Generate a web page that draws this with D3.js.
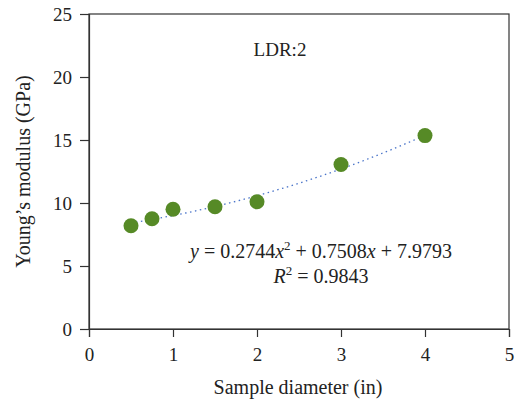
<!DOCTYPE html>
<html>
<head>
<meta charset="utf-8">
<script src="https://cdn.jsdelivr.net/npm/d3@7"></script>
<style>
  body { margin: 0; background: #fff; }
  text { font-family: "Liberation Serif", "DejaVu Serif", serif; fill: #222; }
</style>
</head>
<body>
<svg id="chart" width="518" height="404"></svg>
<script>
const diameters = [0.5, 0.75, 1, 1.5, 2, 3, 4];
const modulus = [8.2, 8.75, 9.5, 9.7, 10.1, 13.05, 15.35];
const fitCoeffs = [0.2744, 0.7508, 7.9793]; // from the trendline label
const xTicks = [0, 1, 2, 3, 4, 5];
const yTicks = [0, 5, 10, 15, 20, 25];

const margin = {top: 14, right: 9, bottom: 75, left: 89};
const width = 518 - margin.left - margin.right;
const height = 404 - margin.top - margin.bottom;

const svg = d3.select('#chart')
  .append('g')
  .attr('transform', `translate(${margin.left}, ${margin.top})`);

const x = d3.scaleLinear().domain([0, 5]).range([0, width]);
const y = d3.scaleLinear().domain([0, 25]).range([height, 0]);

// frame
svg.append('rect')
  .attr('width', width)
  .attr('height', height)
  .attr('fill', 'none')
  .attr('stroke', '#333')
  .attr('stroke-width', 1.2);

const xAxis = svg.append('g')
  .attr('transform', `translate(0, ${height})`)
  .call(d3.axisBottom(x).tickValues(xTicks).tickSize(8).tickPadding(10).tickFormat(d3.format('d')));
const yAxis = svg.append('g')
  .call(d3.axisLeft(y).tickValues(yTicks).tickSize(9).tickPadding(8).tickFormat(d3.format('d')));

[xAxis, yAxis].forEach(a => {
  a.select('.domain').attr('stroke', '#333').attr('stroke-width', 1.2);
  a.selectAll('.tick line').attr('stroke', '#333').attr('stroke-width', 1.2);
  a.selectAll('.tick text')
    .style('font-family', '"Liberation Serif", serif')
    .style('font-size', '19px')
    .attr('fill', '#222');
});
xAxis.selectAll('.tick text').attr('dy', '0.75em');

// trendline
const fitX = d3.range(diameters[0], diameters[diameters.length - 1] + 0.001, 0.05);
const fit = v => fitCoeffs[0] * v * v + fitCoeffs[1] * v + fitCoeffs[2];
svg.append('path')
  .datum(fitX)
  .attr('d', d3.line().x(d => x(d)).y(d => y(fit(d))))
  .attr('fill', 'none')
  .attr('stroke', '#4a74c9')
  .attr('stroke-width', 1.3)
  .attr('stroke-dasharray', '1.5,3.5');

svg.selectAll('circle.pt')
  .data(diameters)
  .join('circle')
  .attr('class', 'pt')
  .attr('cx', d => x(d))
  .attr('cy', (d, i) => y(modulus[i]))
  .attr('r', 7.5)
  .attr('fill', '#568a26');

// labels
svg.append('text')
  .attr('x', 191).attr('y', 42)
  .attr('text-anchor', 'middle')
  .style('font-size', '19px')
  .text('LDR:2');

const eq = svg.append('text')
  .attr('x', 232).attr('y', 244)
  .attr('text-anchor', 'middle')
  .style('font-size', '20px');
eq.append('tspan').style('font-style', 'italic').text('y');
eq.append('tspan').text(' = 0.2744');
eq.append('tspan').style('font-style', 'italic').text('x');
eq.append('tspan').attr('dy', -8).style('font-size', '13px').text('2');
eq.append('tspan').attr('dy', 8).text(' + 0.7508');
eq.append('tspan').style('font-style', 'italic').text('x');
eq.append('tspan').text(' + 7.9793');

const r2 = svg.append('text')
  .attr('x', 232).attr('y', 269)
  .attr('text-anchor', 'middle')
  .style('font-size', '20px');
r2.append('tspan').style('font-style', 'italic').text('R');
r2.append('tspan').attr('dy', -8).style('font-size', '13px').text('2');
r2.append('tspan').attr('dy', 8).text(' = 0.9843');

svg.append('text')
  .attr('x', width / 2 - 1).attr('y', height + 65)
  .attr('text-anchor', 'middle')
  .style('font-size', '20px')
  .text('Sample diameter (in)');

svg.append('text')
  .attr('transform', `translate(${-59}, ${height / 2}) rotate(-90)`)
  .attr('text-anchor', 'middle')
  .style('font-size', '20px')
  .text('Young\u2019s modulus (GPa)');
</script>
</body>
</html>
